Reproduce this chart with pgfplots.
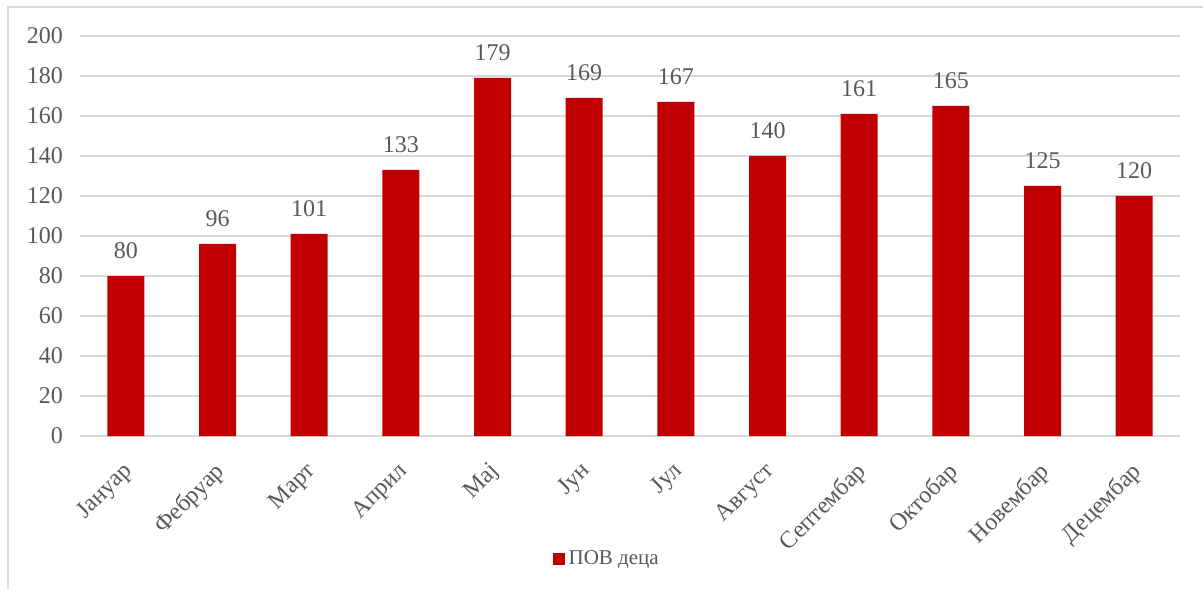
\documentclass[border=0pt]{standalone}
\usepackage{pgfplots}
\pgfplotsset{compat=1.18}
\usepackage{fontspec}
\setmainfont{Liberation Serif}
\definecolor{barred}{HTML}{C00000}
\definecolor{txt}{HTML}{595959}
\definecolor{gridgray}{HTML}{D9D9D9}
\begin{document}
\begin{tikzpicture}
\begin{axis}[
  name=ax,
  scale only axis,
  width=550pt, height=200pt,
  ymin=0, ymax=200,
  xmin=-0.5, xmax=11.5,
  ytick={0,20,...,200},
  xtick={0,...,11},
  xticklabels={Јануар,Фебруар,Март,Април,Мај,Јун,Јул,Август,Септембар,Октобар,Новембар,Децембар},
  xticklabel style={rotate=45, anchor=north east, font=\fontsize{12pt}{14pt}\selectfont, text=txt, inner sep=1pt, xshift=-9pt, yshift=-6pt},
  yticklabel style={font=\fontsize{12pt}{14pt}\selectfont, text=txt, xshift=-5pt},
  /pgf/number format/assume math mode=true,
  ymajorgrids, xmajorgrids=false, major grid style={draw=gridgray, line width=0.8pt},
  axis line style={draw=none},
  major tick length=0pt,
  clip=false,
  ybar, bar width=18.5pt,
  nodes near coords,
  every node near coord/.append style={font=\fontsize{12pt}{14pt}\selectfont, text=txt, yshift=5pt},
  legend style={at={(0.48,-0.3075)}, anchor=center, draw=none, font=\fontsize{10.5pt}{12pt}\selectfont, text=txt},
  legend image code/.code={\fill[barred] (0cm,-0.1cm) rectangle (0.2cm,0.1cm);},
]
\addplot[fill=barred, draw=none] coordinates {
 (0,80) (1,96) (2,101) (3,133) (4,179) (5,169) (6,167) (7,140) (8,161) (9,165) (10,125) (11,120)};
\addlegendentry{ПОВ деца}
\end{axis}
\path[use as bounding box] ([xshift=-40pt,yshift=-76.5pt]ax.south west) rectangle ([xshift=11.5pt,yshift=18pt]ax.north east);
\draw[draw=gridgray, line width=0.8pt] ([xshift=-36pt,yshift=-76.5pt]ax.south west) |- ([xshift=11.5pt,yshift=14.5pt]ax.north east);
\end{tikzpicture}
\end{document}
